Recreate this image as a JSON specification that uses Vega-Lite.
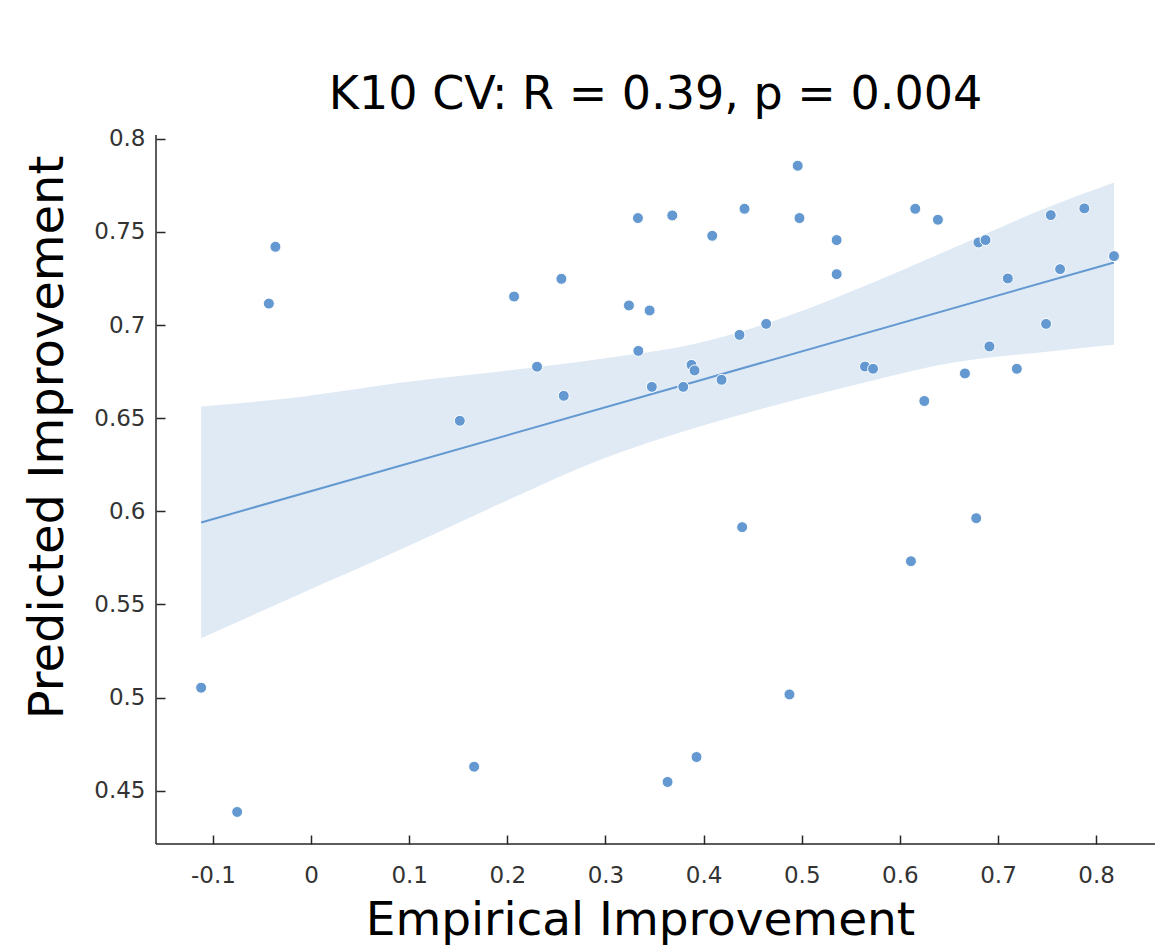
{
  "$schema": "https://vega.github.io/schema/vega-lite/v6.json",
  "width": 999,
  "height": 709,
  "autosize": {"type": "none"},
  "padding": {"left": 156, "top": 135, "right": 0, "bottom": 102},
  "background": "white",
  "config": {"view": {"stroke": null}},
  "title": {"text": "K10 CV: R = 0.39, p = 0.004", "font": "DejaVu Sans", "fontSize": 46, "fontWeight": "normal", "color": "black", "anchor": "middle", "frame": "group", "offset": 9},
  "datasets": {
    "pts": [
      {"x": -0.112, "y": 0.5053},
      {"x": -0.0753, "y": 0.4386},
      {"x": -0.043, "y": 0.7115},
      {"x": -0.0363, "y": 0.742},
      {"x": 0.1516, "y": 0.6486},
      {"x": 0.1662, "y": 0.4629},
      {"x": 0.2069, "y": 0.7153},
      {"x": 0.2303, "y": 0.6776},
      {"x": 0.2551, "y": 0.7248},
      {"x": 0.2575, "y": 0.662},
      {"x": 0.3239, "y": 0.7105},
      {"x": 0.3331, "y": 0.7574},
      {"x": 0.345, "y": 0.7078},
      {"x": 0.3335, "y": 0.6861},
      {"x": 0.3473, "y": 0.6668},
      {"x": 0.3633, "y": 0.4547},
      {"x": 0.3681, "y": 0.7588},
      {"x": 0.3793, "y": 0.6668},
      {"x": 0.3877, "y": 0.6786},
      {"x": 0.3908, "y": 0.6756},
      {"x": 0.3928, "y": 0.4681},
      {"x": 0.4088, "y": 0.7479},
      {"x": 0.4183, "y": 0.6706},
      {"x": 0.4366, "y": 0.6947},
      {"x": 0.4393, "y": 0.5915},
      {"x": 0.4417, "y": 0.7624},
      {"x": 0.4638, "y": 0.7006},
      {"x": 0.4875, "y": 0.5017},
      {"x": 0.4959, "y": 0.7855},
      {"x": 0.4977, "y": 0.7574},
      {"x": 0.5356, "y": 0.7456},
      {"x": 0.5356, "y": 0.7273},
      {"x": 0.5645, "y": 0.6777},
      {"x": 0.5727, "y": 0.6765},
      {"x": 0.6113, "y": 0.5732},
      {"x": 0.6157, "y": 0.7624},
      {"x": 0.6249, "y": 0.6592},
      {"x": 0.6388, "y": 0.7565},
      {"x": 0.6663, "y": 0.674},
      {"x": 0.6778, "y": 0.5963},
      {"x": 0.6801, "y": 0.7443},
      {"x": 0.6873, "y": 0.7456},
      {"x": 0.6913, "y": 0.6885},
      {"x": 0.71, "y": 0.725},
      {"x": 0.7192, "y": 0.6765},
      {"x": 0.749, "y": 0.7006},
      {"x": 0.7538, "y": 0.759},
      {"x": 0.7633, "y": 0.73},
      {"x": 0.788, "y": 0.7626},
      {"x": 0.8182, "y": 0.737}
    ],
    "band": [
      {"x": -0.112, "y": 0.5318, "y2": 0.6562},
      {"x": -0.0112, "y": 0.5556, "y2": 0.6614},
      {"x": 0.0906, "y": 0.5793, "y2": 0.669},
      {"x": 0.1923, "y": 0.604, "y2": 0.6751},
      {"x": 0.2941, "y": 0.6276, "y2": 0.6818},
      {"x": 0.3959, "y": 0.6455, "y2": 0.6905},
      {"x": 0.4977, "y": 0.6604, "y2": 0.7071},
      {"x": 0.5485, "y": 0.6671, "y2": 0.7176},
      {"x": 0.6503, "y": 0.6795, "y2": 0.7404},
      {"x": 0.7521, "y": 0.6858, "y2": 0.7635},
      {"x": 0.8182, "y": 0.6894, "y2": 0.7765}
    ],
    "fit": [
      {"x": -0.112, "y": 0.594},
      {"x": 0.8182, "y": 0.7336}
    ]
  },
  "encoding": {
    "x": {
      "field": "x", "type": "quantitative",
      "scale": {"domain": [-0.158, 0.86], "nice": false, "zero": false},
      "axis": {
        "title": "Empirical Improvement",
        "values": [-0.1, 0, 0.1, 0.2, 0.3, 0.4, 0.5, 0.6, 0.7, 0.8],
        "labelExpr": "toString(datum.value)",
        "grid": false, "domain": false, "offset": -9,
        "tickColor": "#262626", "tickWidth": 1.5, "tickSize": 9,
        "labelFont": "DejaVu Sans", "labelFontSize": 23, "labelColor": "#333333", "labelPadding": 20,
        "titleFont": "DejaVu Sans", "titleFontSize": 47, "titleFontWeight": "normal", "titleColor": "black",
        "titleX": 484, "titleY": 99, "titleBaseline": "alphabetic", "titleAlign": "center"
      }
    },
    "y": {
      "field": "y", "type": "quantitative",
      "scale": {"domain": [0.4214, 0.802], "nice": false, "zero": false},
      "axis": {
        "title": "Predicted Improvement",
        "values": [0.45, 0.5, 0.55, 0.6, 0.65, 0.7, 0.75, 0.8],
        "labelExpr": "toString(datum.value)",
        "grid": false, "domain": false, "offset": -9,
        "tickColor": "#262626", "tickWidth": 1.5, "tickSize": 9,
        "labelFont": "DejaVu Sans", "labelFontSize": 23, "labelColor": "#333333", "labelPadding": 11,
        "titleFont": "DejaVu Sans", "titleFontSize": 48, "titleFontWeight": "normal", "titleColor": "black",
        "titleX": -103, "titleY": 302, "titleAngle": 270, "titleBaseline": "alphabetic", "titleAlign": "center"
      }
    }
  },
  "layer": [
    {
      "data": {"name": "band"},
      "mark": {"type": "area", "color": "#E0EAF5", "opacity": 1, "interpolate": "monotone"},
      "encoding": {"y2": {"field": "y2"}}
    },
    {
      "data": {"name": "fit"},
      "mark": {"type": "line", "color": "#6399D0", "strokeWidth": 2}
    },
    {
      "data": {"name": "pts"},
      "mark": {"type": "circle", "color": "#6399D0", "size": 120, "opacity": 1, "stroke": "white", "strokeWidth": 1}
    },
    {
      "data": {"name": "fit"},
      "transform": [{"filter": "datum.x < 0"}],
      "mark": {"type": "rule", "color": "#262626", "strokeWidth": 1.5},
      "encoding": {"x": {"datum": -0.158, "type": "quantitative"}, "y": {"datum": 0.4214, "type": "quantitative"}, "y2": {"datum": 0.802}}
    },
    {
      "data": {"name": "fit"},
      "transform": [{"filter": "datum.x < 0"}],
      "mark": {"type": "rule", "color": "#262626", "strokeWidth": 1.5},
      "encoding": {"x": {"datum": -0.158, "type": "quantitative"}, "x2": {"datum": 0.86}, "y": {"datum": 0.4214, "type": "quantitative"}}
    }
  ]
}
